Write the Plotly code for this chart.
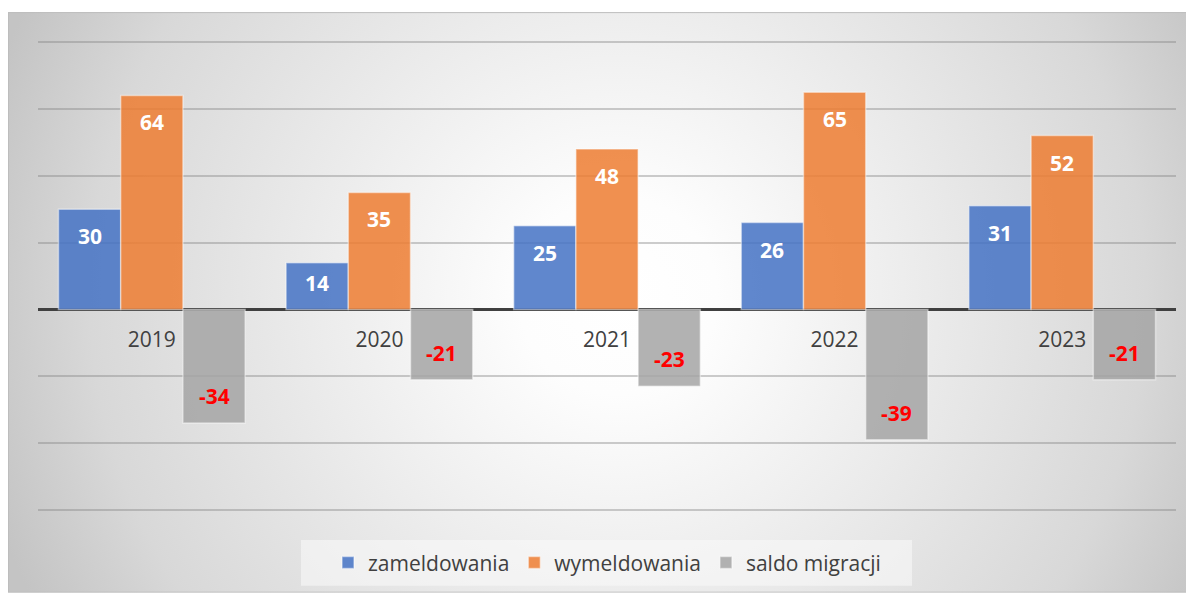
import base64
import plotly.graph_objects as go

YEARS = ["2019", "2020", "2021", "2022", "2023"]
ZAMELDOWANIA = [30, 14, 25, 26, 31]
WYMELDOWANIA = [64, 35, 48, 65, 52]
SALDO = [-34, -21, -23, -39, -21]

BLUE = "rgba(68,114,196,0.85)"
ORANGE = "rgba(237,125,49,0.85)"
GRAY = "rgba(165,165,165,0.85)"
EDGE = "rgba(255,255,255,0.45)"
FONT = "Open Sans, Lato, sans-serif"

# range padded a little so the edge gridlines (80 / -60) are still drawn
Y_MIN, Y_MAX = -60.6, 80.6
W, H = 1186, 587            # page adds an 8px body margin
M = dict(l=30, r=18, t=32, b=81)
PW = W - M["l"] - M["r"]    # plot area width in px
PH = H - M["t"] - M["b"]    # plot area height in px
BARGAP = 0.18


def px(x):  # figure px -> paper x
    return (x - M["l"]) / PW


def py(y):  # figure px -> paper y
    return (H - M["b"] - y) / PH


# soft radial backdrop, like the Office chart style
_svg = """<svg xmlns='http://www.w3.org/2000/svg' width='1186' height='583' preserveAspectRatio='none'>
<defs><radialGradient id='g' gradientUnits='userSpaceOnUse' cx='610' cy='285' r='660'>
<stop offset='0' stop-color='#ffffff'/><stop offset='0.15' stop-color='#fdfdfd'/>
<stop offset='0.52' stop-color='#e8e8e8'/><stop offset='0.8' stop-color='#d8d8d8'/>
<stop offset='1' stop-color='#c4c4c4'/></radialGradient></defs>
<rect width='1186' height='583' fill='url(#g)'/>
<rect x='0.5' y='0.5' width='1185' height='582' fill='none' stroke='#bdbdbd' stroke-width='1'/></svg>"""
BG = "data:image/svg+xml;base64," + base64.b64encode(_svg.encode()).decode()


def _bar(name, y, color):
    return go.Bar(x=YEARS, y=y, name=name,
                  marker=dict(color=color, line=dict(color=EDGE, width=1.5)),
                  hoverinfo="x+y")


fig = go.Figure()
fig.add_trace(_bar("zameldowania", ZAMELDOWANIA, BLUE))
fig.add_trace(_bar("wymeldowania", WYMELDOWANIA, ORANGE))
fig.add_trace(_bar("saldo migracji", SALDO, GRAY))

# Excel-style "inside end" data labels
px_per_unit = PH / (Y_MAX - Y_MIN)
bar_px = PW / len(YEARS) * (1 - BARGAP) / 3
for k, (vals, col) in enumerate([(ZAMELDOWANIA, "white"), (WYMELDOWANIA, "white"),
                                 (SALDO, "#ff0000")]):
    for i, v in enumerate(vals):
        off = min(27, abs(v) * px_per_unit * 0.43)
        fig.add_annotation(
            x=i, y=v, xref="x", yref="y", text=str(v), showarrow=False,
            xshift=(k - 1) * bar_px, yshift=-off if v > 0 else off,
            font=dict(family=FONT, size=21, color=col, weight="bold"),
        )

fig.update_layout(
    width=W, height=H, margin=M,
    paper_bgcolor="white", plot_bgcolor="rgba(0,0,0,0)",
    font=dict(family=FONT, size=21, color="#404040"),
    barmode="group", bargap=BARGAP, bargroupgap=0,
    showlegend=True,
    legend=dict(orientation="h", xanchor="center", x=0.5, yanchor="middle", y=py(557),
                bgcolor="rgba(0,0,0,0)", font=dict(size=21, color="#404040"),
                itemwidth=30, tracegroupgap=0),
    images=[dict(source=BG, xref="paper", yref="paper", x=px(0), y=py(4),
                 sizex=W / PW, sizey=583 / PH, sizing="stretch",
                 xanchor="left", yanchor="top", layer="below")],
    shapes=[dict(type="rect", xref="paper", yref="paper", x0=px(293), x1=px(904),
                 y0=py(580), y1=py(534), fillcolor="rgba(248,248,248,0.6)",
                 line_width=0, layer="below")],
)
fig.update_xaxes(
    type="category", range=[-0.5, len(YEARS) - 0.5],
    anchor="free", position=(0 - Y_MIN) / (Y_MAX - Y_MIN),
    showline=False, showgrid=False, ticks="", ticklabelstandoff=16,
    tickfont=dict(size=21, color="#404040"),
)
fig.update_yaxes(
    range=[Y_MIN, Y_MAX], tick0=0, dtick=20, showticklabels=False,
    showgrid=True, gridcolor="rgba(130,130,130,0.4)", gridwidth=1.5,
    zeroline=True, zerolinecolor="#404040", zerolinewidth=3,
)

fig.write_html("out.html")
